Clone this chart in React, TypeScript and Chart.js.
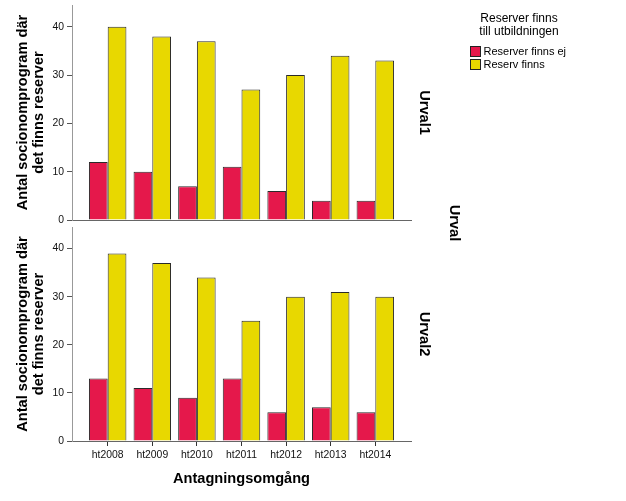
import { useEffect, useRef } from "react";
import { Chart, registerables } from "chart.js";

Chart.register(...registerables);

const categories = ["ht2008", "ht2009", "ht2010", "ht2011", "ht2012", "ht2013", "ht2014"];
const seriesNames = ["Reserver finns ej", "Reserv finns"];
const seriesColors = ["#E5184B", "#E8D800"];
const urval1Ej = [12, 10, 7, 11, 6, 4, 4];
const urval1Finns = [40, 38, 37, 27, 30, 34, 33];
const urval2Ej = [13, 11, 9, 13, 6, 7, 6];
const urval2Finns = [39, 37, 34, 25, 30, 31, 30];
const yTickValues = [0, 10, 20, 30, 40];
const panelLabels = ["Urval1", "Urval2"];
const facetTitle = "Urval";
const legendTitle = ["Reserver finns", "till utbildningen"];
const yTitle = ["Antal socionomprogram där", "det finns reserver"];
const xTitle = "Antagningsomgång";

const FONT = '"Liberation Sans", Arial, sans-serif';
const W = 626;
const H = 501;

function drawRotated(ctx: CanvasRenderingContext2D, text: string, x: number, y: number) {
  ctx.save();
  ctx.translate(x, y);
  ctx.rotate(Math.PI / 2);
  ctx.textAlign = "center";
  ctx.textBaseline = "middle";
  ctx.fillText(text, 0, 0);
  ctx.restore();
}

function makeConfig(ej: number[], finns: number[], bottom: boolean, label: string): any {
  const toPts = (arr: number[]) => arr.map((v, i) => ({ x: i, y: v }));
  const overlay = {
    id: "overlay" + (bottom ? "2" : "1"),
    afterDraw(chart: any) {
      const ctx: CanvasRenderingContext2D = chart.ctx;
      const ca = chart.chartArea;
      ctx.save();
      ctx.fillStyle = "#000";
      ctx.font = `bold 14.6px ${FONT}`;
      drawRotated(ctx, label, ca.right + 13, (ca.top + ca.bottom) / 2);
      if (!bottom) {
        drawRotated(ctx, facetTitle, ca.right + 43, 223);
        // legend
        ctx.font = `12px ${FONT}`;
        ctx.textAlign = "center";
        ctx.textBaseline = "middle";
        ctx.fillStyle = "#000";
        ctx.fillText(legendTitle[0], 519, 18.5);
        ctx.fillText(legendTitle[1], 519, 32);
        ctx.font = `11px ${FONT}`;
        ctx.textAlign = "left";
        chart.data.datasets.forEach((ds: any, i: number) => {
          const by = 47 + i * 13;
          ctx.fillStyle = ds.backgroundColor;
          ctx.fillRect(471, by, 10, 9);
          ctx.strokeStyle = "#222";
          ctx.lineWidth = 1;
          ctx.strokeRect(470.5, by - 0.5, 10, 10);
          ctx.fillStyle = "#000";
          ctx.fillText(ds.label, 483.5, by + 5);
        });
      }
      ctx.restore();
    },
  };

  return {
    type: "bar",
    data: {
      datasets: [
        {
          label: seriesNames[0],
          data: toPts(ej),
          backgroundColor: seriesColors[0],
          borderColor: "#2a2a2a",
          borderWidth: 1,
        },
        {
          label: seriesNames[1],
          data: toPts(finns),
          backgroundColor: seriesColors[1],
          borderColor: "#2a2a2a",
          borderWidth: 1,
        },
      ],
    },
    options: {
      animation: false,
      responsive: false,
      events: [],
      layout: {
        padding: bottom
          ? { top: 227, right: W - 411, bottom: 0, left: 0 }
          : { top: 5, right: W - 411, bottom: H - 226, left: 0 },
      },
      datasets: {
        bar: { categoryPercentage: 0.84, barPercentage: 1.0 },
      },
      plugins: {
        legend: { display: false },
        tooltip: { enabled: false },
      },
      scales: {
        x: {
          type: "linear",
          min: -0.8,
          max: 6.8,
          offset: false,
          afterBuildTicks(scale: any) {
            scale.ticks = categories.map((_, i) => ({ value: i }));
          },
          afterFit(scale: any) {
            scale.height = bottom ? 60 : 6;
            scale.paddingLeft = 0;
            scale.paddingRight = 0;
          },
          ticks: {
            display: bottom,
            autoSkip: false,
            maxRotation: 0,
            padding: 3,
            color: "#111",
            font: { family: FONT, size: 10.4 },
            callback: (v: number) => categories[Math.round(v)] ?? "",
          },
          grid: {
            display: bottom,
            offset: false,
            drawOnChartArea: false,
            drawTicks: true,
            tickLength: 5,
            color: "#333",
          },
          border: { display: true, color: "#666", width: 1 },
          title: {
            display: bottom,
            text: xTitle,
            color: "#000",
            font: { family: FONT, size: 14.6, weight: "bold", lineHeight: 1.1 },
            padding: { top: 0, bottom: 14.5 },
          },
        },
        y: {
          type: "linear",
          min: 0,
          max: 44.5,
          afterBuildTicks(scale: any) {
            scale.ticks = yTickValues.map((v) => ({ value: v }));
          },
          afterFit(scale: any) {
            scale.width = 72;
            scale.paddingTop = 0;
            scale.paddingBottom = 0;
          },
          ticks: {
            padding: 3,
            color: "#111",
            font: { family: FONT, size: 10.4 },
          },
          grid: {
            display: true,
            drawOnChartArea: false,
            drawTicks: true,
            tickLength: 5,
            color: "#555",
          },
          border: { display: true, color: "#999", width: 1 },
          title: {
            display: true,
            text: yTitle,
            color: "#000",
            font: { family: FONT, size: 14.6, weight: "bold", lineHeight: 1.1 },
            padding: { top: 14.5, bottom: 0 },
          },
        },
      },
    },
    plugins: [overlay],
  };
}

export default function App() {
  const ref1 = useRef<HTMLCanvasElement | null>(null);
  const ref2 = useRef<HTMLCanvasElement | null>(null);

  useEffect(() => {
    Chart.defaults.font.family = FONT;
    const c1 = new Chart(ref1.current as HTMLCanvasElement, makeConfig(urval1Ej, urval1Finns, false, panelLabels[0]));
    const c2 = new Chart(ref2.current as HTMLCanvasElement, makeConfig(urval2Ej, urval2Finns, true, panelLabels[1]));
    return () => {
      c1.destroy();
      c2.destroy();
    };
  }, []);

  const cs: any = { position: "absolute", left: 0, top: 0, width: W, height: H };
  return (
    <div style={{ position: "absolute", left: 0, top: 0, width: W, height: H, background: "#fff" }}>
      <canvas ref={ref2} width={W} height={H} style={cs} />
      <canvas ref={ref1} width={W} height={H} style={cs} />
    </div>
  );
}
